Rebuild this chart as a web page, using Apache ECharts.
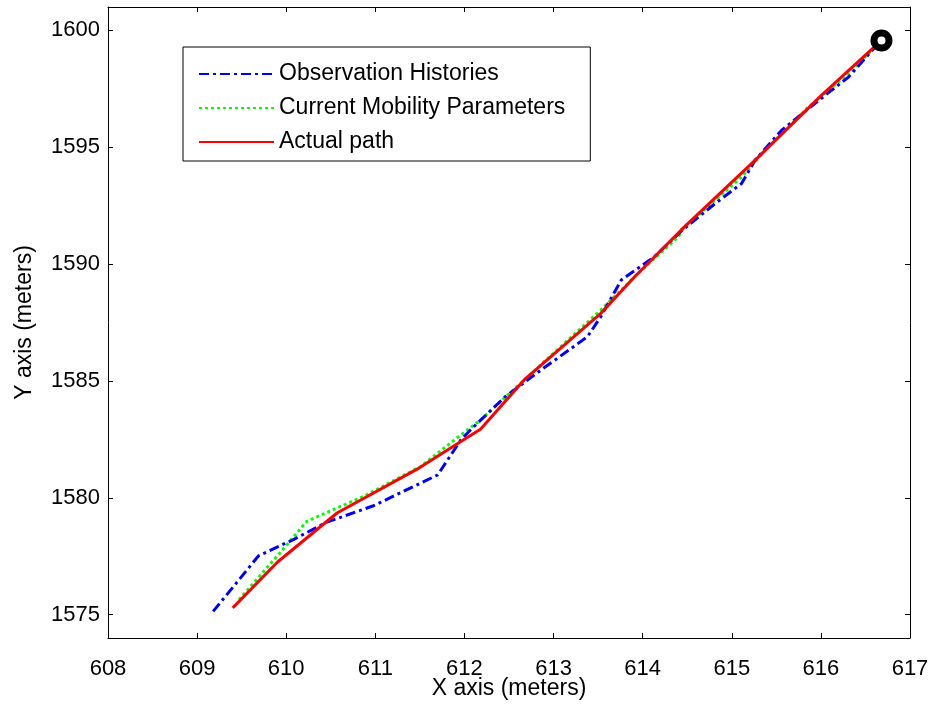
<!DOCTYPE html>
<html>
<head>
<meta charset="utf-8">
<script src="https://cdn.jsdelivr.net/npm/echarts@6/dist/echarts.min.js"></script>
<style>
  html, body { margin: 0; padding: 0; background: #fff; }
  #chart { width: 937px; height: 709px; }
</style>
</head>
<body>
<div id="chart"></div>
<script>
// Tracked positions (meters)
const obsX = [609.18, 609.69, 610.08, 610.45, 610.98, 611.70, 611.96, 612.07, 612.45, 612.86, 613.38, 613.53, 613.76, 614.13, 614.43, 614.80, 615.11, 615.26, 615.56, 616.12, 616.31, 616.61, 616.68];
const obsY = [1575.14, 1577.52, 1578.21, 1578.95, 1579.66, 1580.98, 1582.48, 1582.91, 1584.30, 1585.47, 1586.89, 1587.75, 1589.32, 1590.31, 1591.40, 1592.55, 1593.45, 1594.44, 1595.73, 1597.44, 1598.00, 1599.29, 1599.57];

const mobX = [609.47, 609.93, 610.23, 610.61, 610.87, 611.51, 611.96, 612.18, 612.63, 613.53, 613.91, 614.40, 614.47, 615.11, 615.41, 615.86, 616.31, 616.68];
const mobY = [1575.64, 1577.64, 1578.99, 1579.63, 1580.06, 1581.34, 1582.69, 1583.33, 1584.90, 1588.03, 1589.46, 1591.17, 1591.59, 1593.73, 1595.01, 1596.72, 1598.15, 1599.57];

const pathX = [609.40, 609.90, 610.57, 611.49, 611.96, 612.18, 612.67, 613.53, 613.91, 614.43, 615.26, 616.00, 616.68];
const pathY = [1575.29, 1577.24, 1579.35, 1581.27, 1582.41, 1582.93, 1585.04, 1587.89, 1589.46, 1591.45, 1594.44, 1597.20, 1599.57];

const endX = [616.68];
const endY = [1599.57];

const yTicks = [1575, 1580, 1585, 1590, 1595, 1600];

const zip = (xs, ys) => xs.map((x, i) => [x, ys[i]]);

const font = 'Arial, "Liberation Sans", sans-serif';

const baseX = {
  type: 'value', min: 608, max: 617, interval: 1,
  axisLine: { show: true, onZero: false, lineStyle: { color: '#000', width: 1 } },
  axisTick: { show: true, inside: true, length: 5, lineStyle: { color: '#000' } },
  splitLine: { show: false }
};
const baseY = {
  type: 'value', min: 1574, max: 1601,
  axisLine: { show: true, onZero: false, lineStyle: { color: '#000', width: 1 } },
  axisTick: { show: true, inside: true, length: 5, customValues: yTicks, lineStyle: { color: '#000' } },
  splitLine: { show: false }
};

const chart = echarts.init(document.getElementById('chart'), null, { renderer: 'canvas' });
chart.setOption({
  animation: false,
  backgroundColor: '#fff',
  grid: { left: 108, right: 27, top: 7, bottom: 71, containLabel: false, outerBoundsMode: 'none' },
  xAxis: [
    Object.assign({}, baseX, {
      position: 'bottom',
      name: 'X axis (meters)', nameLocation: 'middle', nameGap: 39, nameMoveOverlap: false,
      nameTextStyle: { fontFamily: font, fontSize: 23, color: '#000' },
      axisLabel: { show: true, margin: 20, fontFamily: font, fontSize: 22, color: '#000' }
    }),
    Object.assign({}, baseX, { position: 'top', axisLabel: { show: false } })
  ],
  yAxis: [
    Object.assign({}, baseY, {
      position: 'left',
      name: 'Y axis (meters)', nameLocation: 'middle', nameGap: 72, nameMoveOverlap: false,
      nameTextStyle: { fontFamily: font, fontSize: 23, color: '#000' },
      axisLabel: {
        show: true, margin: 8, customValues: yTicks,
        fontFamily: font, fontSize: 22, color: '#000',
        formatter: v => String(v)
      }
    }),
    Object.assign({}, baseY, { position: 'right', axisLabel: { show: false } })
  ],
  legend: {
    show: true,
    orient: 'vertical',
    left: 183, top: 47,
    padding: [15, 25, 7, 15],
    itemGap: 10,
    itemWidth: 75, itemHeight: 14,
    backgroundColor: '#fff',
    borderColor: '#000', borderWidth: 1, borderRadius: 0,
    itemStyle: { opacity: 0 },
    textStyle: { fontFamily: font, fontSize: 23, color: '#000', lineHeight: 24 },
    data: ['Observation Histories', 'Current Mobility Parameters', 'Actual path']
  },
  series: [
    {
      name: 'Observation Histories', type: 'line', data: zip(obsX, obsY),
      symbol: 'none', z: 3,
      lineStyle: { color: '#0000ff', width: 3, type: [10, 4, 3, 4] },
      itemStyle: { color: '#0000ff' }
    },
    {
      name: 'Current Mobility Parameters', type: 'line', data: zip(mobX, mobY),
      symbol: 'none', z: 2,
      lineStyle: { color: '#00ff00', width: 3, type: [3, 3] },
      itemStyle: { color: '#00ff00' }
    },
    {
      name: 'Actual path', type: 'line', data: zip(pathX, pathY),
      symbol: 'none', z: 4,
      lineStyle: { color: '#ff0000', width: 3, type: 'solid' },
      itemStyle: { color: '#ff0000' }
    },
    {
      name: 'end', type: 'scatter', data: zip(endX, endY),
      symbol: 'circle', symbolSize: 15, z: 5,
      itemStyle: { color: '#fff', borderColor: '#000', borderWidth: 7, opacity: 1 }
    }
  ]
});
</script>
</body>
</html>
